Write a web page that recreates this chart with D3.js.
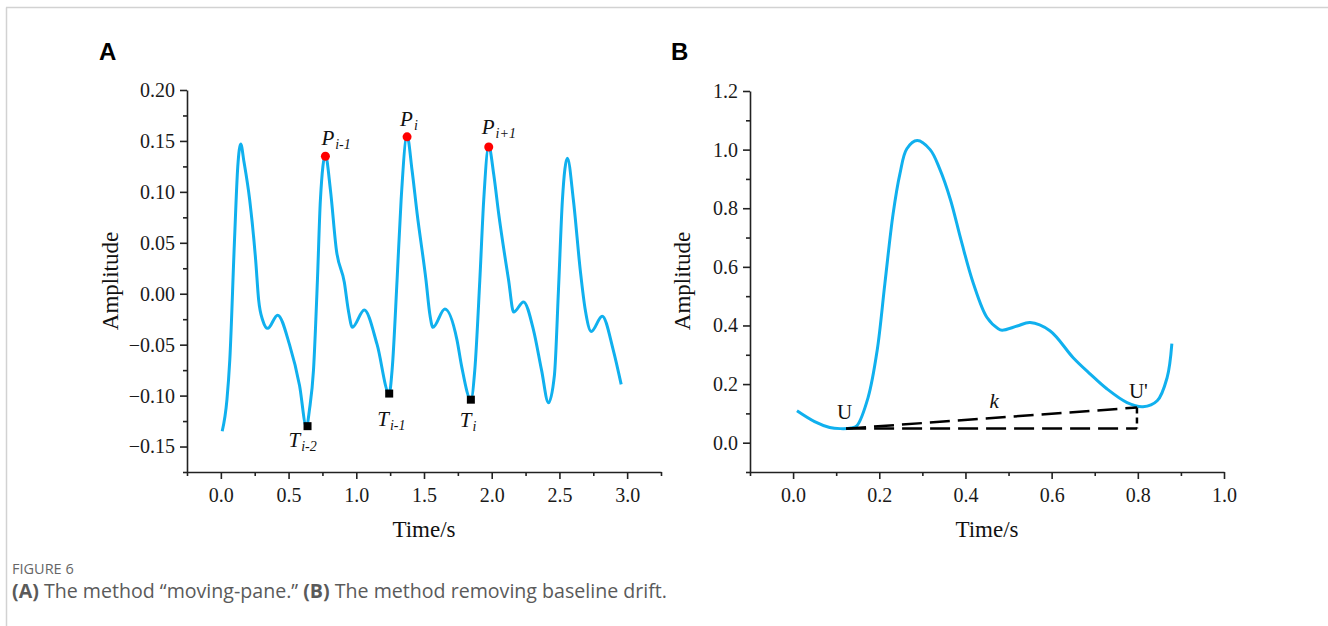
<!DOCTYPE html>
<html><head><meta charset="utf-8">
<script src="https://cdn.jsdelivr.net/npm/d3@7/dist/d3.min.js"></script>
<style>
body{margin:0;background:#fff;}
svg{display:block;}
.tick text{font-family:"Liberation Serif","Times New Roman",serif;font-size:20px;fill:#1a1a1a;}
.domain,.tick line{stroke:#222;stroke-width:1.6px;}
</style></head>
<body>
<svg id="c" width="1328" height="626"></svg>
<script>
// ---------- Panel A data ----------
const timeA = [0.01,0.045,0.066,0.10,0.125,0.147,0.17,0.213,0.257,0.279,0.309,0.346,0.419,0.507,0.581,0.632,
  0.654,0.684,0.713,0.735,0.772,0.809,0.853,0.912,0.941,0.971,1.059,1.154,1.243,
  1.265,1.301,1.331,1.375,1.412,1.449,1.515,1.544,1.566,1.654,1.743,1.779,1.846,
  1.875,1.912,1.941,1.978,2.015,2.051,2.125,2.162,2.235,2.309,2.368,2.419,
  2.463,2.493,2.522,2.559,2.603,2.654,2.691,2.735,2.816,2.897,2.956];
const ampA = [-0.135,-0.104,-0.065,0.05,0.125,0.147,0.13,0.092,0.033,-0.006,-0.026,-0.034,-0.021,-0.050,-0.090,-0.131,
  -0.114,-0.075,0.013,0.092,0.136,0.102,0.043,0.011,-0.016,-0.033,-0.016,-0.050,-0.098,
  -0.074,0.013,0.092,0.155,0.121,0.079,0.013,-0.021,-0.033,-0.015,-0.045,-0.072,-0.104,
  -0.075,0.013,0.092,0.145,0.117,0.079,0.013,-0.018,-0.008,-0.036,-0.075,-0.107,
  -0.080,0.004,0.092,0.133,0.092,0.023,-0.016,-0.037,-0.022,-0.055,-0.089];
const peakT = [0.772,1.375,1.978];
const peakV = [0.135,0.154,0.144];
const peakSub = ["i-1","i","i+1"];
const troughT = [0.640,1.243,1.846];
const troughV = [-0.130,-0.098,-0.104];
const troughSub = ["i-2","i-1","i"];
const xTicksA = [0,0.5,1,1.5,2,2.5,3];
const xMinorA = [-0.25,0.25,0.75,1.25,1.75,2.25,2.75,3.25];
const yTicksA = [-0.15,-0.10,-0.05,0,0.05,0.10,0.15,0.20];
const yMinorA = [-0.175,-0.125,-0.075,-0.025,0.025,0.075,0.125,0.175];

// ---------- Panel B data ----------
const timeB = [0.009,0.05,0.085,0.109,0.135,0.148,0.174,0.195,0.213,0.232,0.248,0.264,0.288,0.318,0.340,0.365,0.390,
  0.418,0.45,0.476,0.485,0.52,0.55,0.596,0.65,0.689,0.728,0.775,0.812,0.845,0.868,0.879];
const ampB = [0.109,0.072,0.052,0.048,0.050,0.058,0.154,0.314,0.543,0.78,0.918,1.003,1.031,1.0,0.935,0.83,0.69,
  0.545,0.427,0.389,0.384,0.398,0.41,0.382,0.29,0.235,0.184,0.137,0.123,0.143,0.222,0.338];
const baseStart = [0.123,0.048];
const baseEnd = [0.798,0.12];
const xTicksB = [0,0.2,0.4,0.6,0.8,1.0];
const xMinorB = [-0.1,0.1,0.3,0.5,0.7,0.9];
const yTicksB = [0,0.2,0.4,0.6,0.8,1.0,1.2];
const yMinorB = [-0.1,0.1,0.3,0.5,0.7,0.9,1.1];

const svg = d3.select("#c");
const serif = '"Liberation Serif","Times New Roman",serif';
const blue = "#10B0EE";

// frame
svg.append("line").attr("x1",6).attr("x2",1328).attr("y1",7.5).attr("y2",7.5).attr("stroke","#d2d2d2").attr("stroke-width",1.5);
svg.append("line").attr("x1",6.5).attr("x2",6.5).attr("y1",7.5).attr("y2",626).attr("stroke","#d2d2d2").attr("stroke-width",1.5);

function drawAxes(g, x, y, xt, xm, yt, ym, xfmt, yfmt, h){
  g.append("g").attr("transform",`translate(0,${h})`)
    .call(d3.axisBottom(x).tickValues(xm).tickSize(4).tickFormat("")).call(s=>s.select(".domain").remove());
  g.append("g")
    .call(d3.axisLeft(y).tickValues(ym).tickSize(4).tickFormat("")).call(s=>s.select(".domain").remove());
  g.append("g").attr("transform",`translate(0,${h})`)
    .call(d3.axisBottom(x).tickValues(xt).tickSize(7).tickSizeOuter(0).tickPadding(9).tickFormat(xfmt));
  g.append("g")
    .call(d3.axisLeft(y).tickValues(yt).tickSize(7).tickSizeOuter(0).tickPadding(5).tickFormat(yfmt));
}

// ---------- Panel A ----------
const A = {l:187, r:661, t:90, b:472};
const xA = d3.scaleLinear().domain([-0.25,3.25]).range([0, A.r-A.l]);
const yA = d3.scaleLinear().domain([-0.175,0.20]).range([A.b-A.t, 0]);
const gA = svg.append("g").attr("transform",`translate(${A.l},${A.t})`);
drawAxes(gA, xA, yA, xTicksA, xMinorA, yTicksA, yMinorA, d3.format(".1f"), d3.format(".2f"), A.b-A.t);
gA.append("path").datum(timeA.map((t,i)=>[t,ampA[i]]))
  .attr("fill","none").attr("stroke",blue).attr("stroke-width",3)
  .attr("d", d3.line().x(d=>xA(d[0])).y(d=>yA(d[1])).curve(d3.curveMonotoneX));
gA.selectAll(".pk").data(peakT).enter().append("circle")
  .attr("cx",(d)=>xA(d)).attr("cy",(d,i)=>yA(peakV[i])).attr("r",4.5).attr("fill","#ff0000");
gA.selectAll(".tr").data(troughT).enter().append("rect")
  .attr("x",d=>xA(d)-4).attr("y",(d,i)=>yA(troughV[i])-4).attr("width",8).attr("height",8).attr("fill","#000");
const peakOff = [[-4,-11],[-7,-11],[-7,-13]];
const troughOff = [[-19,21],[-12,32],[-11,27]];
function subLabel(g, x, y, main, sub){
  const t = g.append("text").attr("x",x).attr("y",y).attr("font-family",serif).attr("font-style","italic").attr("fill","#111");
  t.append("tspan").attr("font-size",21).text(main);
  t.append("tspan").attr("font-size",14).attr("dy",4).attr("dx",1).text(sub);
}
peakT.forEach((d,i)=>subLabel(gA, xA(d)+peakOff[i][0], yA(peakV[i])+peakOff[i][1], "P", peakSub[i]));
troughT.forEach((d,i)=>subLabel(gA, xA(d)+troughOff[i][0], yA(troughV[i])+troughOff[i][1], "T", troughSub[i]));
svg.append("text").attr("transform","translate(118,281) rotate(-90)").attr("text-anchor","middle")
  .attr("font-family",serif).attr("font-size",23).attr("fill","#111").text("Amplitude");
svg.append("text").attr("x",(A.l+A.r)/2).attr("y",537).attr("text-anchor","middle")
  .attr("font-family",serif).attr("font-size",23).attr("fill","#111").text("Time/s");
svg.append("text").attr("x",99).attr("y",60).attr("font-family","Liberation Sans,Arial,sans-serif")
  .attr("font-weight","bold").attr("font-size",24).attr("fill","#000").text("A");

// ---------- Panel B ----------
const B = {l:750, r:1224, t:91, b:472};
const xB = d3.scaleLinear().domain([-0.1,1.0]).range([0, B.r-B.l]);
const yB = d3.scaleLinear().domain([-0.1,1.2]).range([B.b-B.t, 0]);
const gB = svg.append("g").attr("transform",`translate(${B.l},${B.t})`);
drawAxes(gB, xB, yB, xTicksB, xMinorB, yTicksB, yMinorB, d3.format(".1f"), d3.format(".1f"), B.b-B.t);
gB.append("path").datum(timeB.map((t,i)=>[t,ampB[i]]))
  .attr("fill","none").attr("stroke",blue).attr("stroke-width",3)
  .attr("d", d3.line().x(d=>xB(d[0])).y(d=>yB(d[1])).curve(d3.curveCatmullRom.alpha(0.5)));
const dash = "20,8";
gB.append("line").attr("x1",xB(baseStart[0])).attr("y1",yB(baseStart[1])).attr("x2",xB(baseEnd[0])).attr("y2",yB(baseEnd[1]))
  .attr("stroke","#000").attr("stroke-width",2.5).attr("stroke-dasharray",dash);
gB.append("line").attr("x1",xB(baseStart[0])).attr("y1",yB(baseStart[1])).attr("x2",xB(baseEnd[0])).attr("y2",yB(baseStart[1]))
  .attr("stroke","#000").attr("stroke-width",2.5).attr("stroke-dasharray",dash);
gB.append("line").attr("x1",xB(baseEnd[0])).attr("y1",yB(baseEnd[1])).attr("x2",xB(baseEnd[0])).attr("y2",yB(baseStart[1]))
  .attr("stroke","#000").attr("stroke-width",2.5).attr("stroke-dasharray","6,4");
gB.append("text").attr("x",xB(baseStart[0])-9).attr("y",yB(baseStart[1])-10)
  .attr("font-family",serif).attr("font-size",21).attr("fill","#111").text("U");
gB.append("text").attr("x",xB(baseEnd[0])-8).attr("y",yB(baseEnd[1])-10)
  .attr("font-family",serif).attr("font-size",21).attr("fill","#111").text("U'");
gB.append("text").attr("x",xB((baseStart[0]+baseEnd[0])/2)-2).attr("y",yB((baseStart[1]+baseEnd[1])/2)-10)
  .attr("font-family",serif).attr("font-style","italic").attr("font-size",21).attr("fill","#111").text("k");
svg.append("text").attr("transform","translate(690,281) rotate(-90)").attr("text-anchor","middle")
  .attr("font-family",serif).attr("font-size",23).attr("fill","#111").text("Amplitude");
svg.append("text").attr("x",(B.l+B.r)/2).attr("y",537).attr("text-anchor","middle")
  .attr("font-family",serif).attr("font-size",23).attr("fill","#111").text("Time/s");
svg.append("text").attr("x",671).attr("y",60).attr("font-family","Liberation Sans,Arial,sans-serif")
  .attr("font-weight","bold").attr("font-size",24).attr("fill","#000").text("B");

// ---------- Caption ----------
svg.append("text").attr("x",12).attr("y",574).attr("font-family","'Open Sans',sans-serif")
  .attr("font-size",14.5).attr("fill","#666").text("FIGURE 6");
const cap = svg.append("text").attr("x",12).attr("y",598).attr("font-family","'Open Sans',sans-serif")
  .attr("font-size",19.6).attr("fill","#5a5a5a");
cap.append("tspan").attr("font-weight","bold").text("(A)");
cap.append("tspan").text(" The method \u201Cmoving-pane.\u201D ");
cap.append("tspan").attr("font-weight","bold").text("(B)");
cap.append("tspan").text(" The method removing baseline drift.");
</script>
</body></html>
